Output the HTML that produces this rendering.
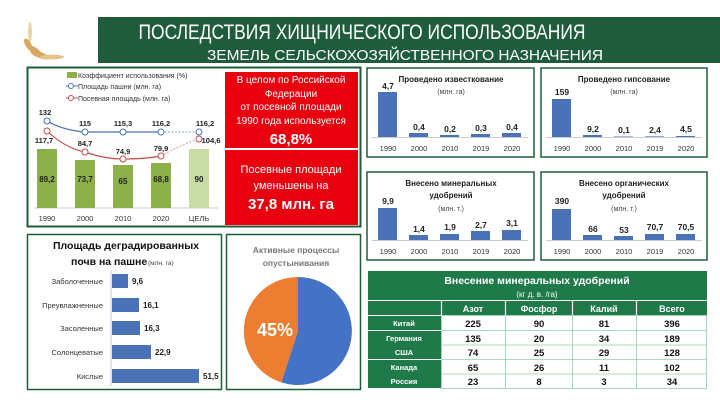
<!DOCTYPE html>
<html><head><meta charset="utf-8"><style>
html,body{margin:0;padding:0;background:#fff;}
svg{display:block;font-family:"Liberation Sans","DejaVu Sans",sans-serif;}
</style></head><body>
<svg width="720" height="414" viewBox="0 0 720 414" xmlns="http://www.w3.org/2000/svg">
<rect width="720" height="414" fill="#fff"/>
<!-- wheat icon -->
<g fill="#d9a860">
<ellipse cx="34" cy="50" rx="8" ry="3" transform="rotate(30 34 50)"/>
<ellipse cx="40" cy="55" rx="10" ry="3" transform="rotate(20 40 55)"/>
<ellipse cx="28" cy="44" rx="6" ry="3" transform="rotate(60 28 44)"/>
<ellipse cx="52" cy="57" rx="12" ry="2.5" fill="#e6c48a"/>
<ellipse cx="30" cy="32" rx="2" ry="10" fill="#e9d3a8"/>
</g>
<!-- header -->
<rect x="98" y="17" width="622" height="46" fill="#1f5c3c"/>
<text x="362" y="39" fill="#fff" font-size="21" text-anchor="middle" textLength="447" lengthAdjust="spacingAndGlyphs">ПОСЛЕДСТВИЯ ХИЩНИЧЕСКОГО ИСПОЛЬЗОВАНИЯ</text>
<text x="405" y="60" fill="#fff" font-size="15" text-anchor="middle" textLength="396" lengthAdjust="spacingAndGlyphs">ЗЕМЕЛЬ СЕЛЬСКОХОЗЯЙСТВЕННОГО НАЗНАЧЕНИЯ</text>

<!-- top-left chart panel -->
<rect x="27.5" y="67.5" width="333" height="159" fill="none" stroke="#1f5c3c" stroke-width="2"/>
<g font-size="7" fill="#333">
<rect x="67" y="72" width="10" height="6" fill="#8db04a"/><text x="78" y="78">Коэффициент использования (%)</text>
<line x1="66" y1="86" x2="78" y2="86" stroke="#4a72b8"/><circle cx="71" cy="86" r="2.5" fill="#fff" stroke="#4a72b8"/><text x="78" y="89">Площадь пашни (млн. га)</text>
<line x1="66" y1="98" x2="78" y2="98" stroke="#c0504d"/><circle cx="71" cy="98" r="2.5" fill="#fff" stroke="#c0504d"/><text x="78" y="101">Посевная площадь (млн. га)</text>
</g>
<line x1="34" y1="208" x2="218" y2="208" stroke="#ccc"/>
<g fill="#8db04a">
<rect x="37" y="149" width="20" height="59"/><rect x="75" y="160" width="20" height="48"/><rect x="113" y="165" width="20" height="43"/><rect x="151" y="163" width="20" height="45"/>
<rect x="189" y="149" width="20" height="59" fill="#c9dca6"/>
</g>
<g font-size="8" font-weight="bold" fill="#222" text-anchor="middle">
<text x="47" y="182">89,2</text><text x="85" y="182">73,7</text><text x="123" y="184">65</text><text x="161" y="182">68,8</text><text x="199" y="182">90</text>
</g>
<g font-size="7.5" fill="#333" text-anchor="middle">
<text x="47" y="221">1990</text><text x="85" y="221">2000</text><text x="123" y="221">2010</text><text x="161" y="221">2020</text><text x="199" y="221">ЦЕЛЬ</text>
</g>
<path d="M47 121 Q62 130 85 132 L161 132" fill="none" stroke="#4a72b8" stroke-width="1.2"/>
<path d="M161 132 L199 132" fill="none" stroke="#8fa9d8" stroke-width="1" stroke-dasharray="2 1.5"/>
<path d="M47 131 Q65 148 85 152 Q105 159 123 159 Q145 159 161 156" fill="none" stroke="#c0504d" stroke-width="1.2"/>
<path d="M161 156 Q180 145 199 139" fill="none" stroke="#e09a98" stroke-width="1" stroke-dasharray="2 1.5"/>
<g fill="#fff" stroke-width="1">
<circle cx="47" cy="121" r="3" stroke="#4a72b8"/><circle cx="85" cy="132" r="3" stroke="#4a72b8"/><circle cx="123" cy="132" r="3" stroke="#4a72b8"/><circle cx="161" cy="132" r="3" stroke="#4a72b8"/><circle cx="199" cy="132" r="3" stroke="#4a72b8"/>
<circle cx="47" cy="131" r="3" stroke="#c0504d"/><circle cx="85" cy="152" r="3" stroke="#c0504d"/><circle cx="123" cy="159" r="3" stroke="#c0504d"/><circle cx="161" cy="156" r="3" stroke="#c0504d"/><circle cx="199" cy="139" r="3" stroke="#c0504d"/>
</g>
<g font-size="7.5" font-weight="bold" fill="#222" text-anchor="middle">
<text x="45" y="115">132</text><text x="85" y="126">115</text><text x="123" y="126">115,3</text><text x="161" y="126">116,2</text><text x="205" y="126">116,2</text>
<text x="44" y="143">117,7</text><text x="85" y="146">84,7</text><text x="123" y="154">74,9</text><text x="161" y="151">79,9</text><text x="211" y="143">104,6</text>
</g>

<!-- red boxes -->
<rect x="225" y="72" width="133" height="76" fill="#e8000f"/>
<rect x="225" y="150" width="133" height="75" fill="#e8000f"/>
<g fill="#fff" text-anchor="middle">
<g font-size="10"><text x="291" y="83">В целом по Российской</text><text x="291" y="97">Федерации</text><text x="291" y="110">от посевной площади</text><text x="291" y="124">1990 года используется</text></g>
<text x="291" y="144" font-size="15" font-weight="bold">68,8%</text>
<g font-size="11"><text x="291" y="173">Посевные площади</text><text x="291" y="189">уменьшены на</text></g>
<text x="291" y="209" font-size="15" font-weight="bold">37,8 млн. га</text>
</g>

<!-- small bar panels -->
<g fill="none" stroke="#1f5c3c" stroke-width="1.5">
<rect x="367" y="68" width="167" height="89"/><rect x="541" y="68" width="166" height="89"/>
<rect x="367" y="172" width="167" height="88"/><rect x="541" y="172" width="166" height="88"/>
</g>
<g fill="#4a72b8">
<rect x="378" y="92" width="19" height="45"/><rect x="409" y="133" width="19" height="4"/><rect x="440" y="135" width="19" height="2"/><rect x="471" y="134" width="19" height="3"/><rect x="502" y="133" width="19" height="4"/>
<rect x="552" y="99" width="19" height="38"/><rect x="583" y="135" width="19" height="2"/><rect x="614" y="136.5" width="19" height=".5"/><rect x="645" y="136.4" width="19" height=".6"/><rect x="676" y="136" width="19" height="1"/>
<rect x="378" y="208" width="19" height="32"/><rect x="409" y="235" width="19" height="5"/><rect x="440" y="234" width="19" height="6"/><rect x="471" y="231" width="19" height="9"/><rect x="502" y="230" width="19" height="10"/>
<rect x="552" y="209" width="19" height="31"/><rect x="583" y="235" width="19" height="5"/><rect x="614" y="236" width="19" height="4"/><rect x="645" y="234" width="19" height="6"/><rect x="676" y="234" width="19" height="6"/>
</g>
<g stroke="#ccc"><line x1="372" y1="137.5" x2="528" y2="137.5"/><line x1="546" y1="137.5" x2="702" y2="137.5"/><line x1="372" y1="240.5" x2="528" y2="240.5"/><line x1="546" y1="240.5" x2="702" y2="240.5"/></g>
<g font-size="7.5" fill="#333" text-anchor="middle">
<text x="388" y="151">1990</text><text x="419" y="151">2000</text><text x="450" y="151">2010</text><text x="481" y="151">2019</text><text x="512" y="151">2020</text>
<text x="562" y="151">1990</text><text x="593" y="151">2000</text><text x="624" y="151">2010</text><text x="655" y="151">2019</text><text x="686" y="151">2020</text>
<text x="388" y="254">1990</text><text x="419" y="254">2000</text><text x="450" y="254">2010</text><text x="481" y="254">2019</text><text x="512" y="254">2020</text>
<text x="562" y="254">1990</text><text x="593" y="254">2000</text><text x="624" y="254">2010</text><text x="655" y="254">2019</text><text x="686" y="254">2020</text>
</g>
<g font-size="8.5" font-weight="bold" fill="#222" text-anchor="middle">
<text x="388" y="89">4,7</text><text x="419" y="130">0,4</text><text x="450" y="132">0,2</text><text x="481" y="131">0,3</text><text x="512" y="130">0,4</text>
<text x="562" y="95">159</text><text x="593" y="132">9,2</text><text x="624" y="133">0,1</text><text x="655" y="133">2,4</text><text x="686" y="132">4,5</text>
<text x="388" y="204">9,9</text><text x="419" y="232">1,4</text><text x="450" y="230">1,9</text><text x="481" y="228">2,7</text><text x="512" y="226">3,1</text>
<text x="562" y="204">390</text><text x="593" y="232">66</text><text x="624" y="233">53</text><text x="655" y="230">70,7</text><text x="686" y="230">70,5</text>
</g>
<g font-size="8" font-weight="bold" fill="#222" text-anchor="middle">
<text x="451" y="82">Проведено известкование</text><text x="624" y="82">Проведено гипсование</text>
<text x="451" y="186">Внесено минеральных</text><text x="451" y="198">удобрений</text>
<text x="624" y="186">Внесено органических</text><text x="624" y="198">удобрений</text>
</g>
<g font-size="7" fill="#444" text-anchor="middle">
<text x="451" y="94">(млн. га)</text><text x="624" y="94">(млн. га)</text><text x="451" y="211">(млн. т.)</text><text x="624" y="211">(млн. т.)</text>
</g>

<!-- degraded soils -->
<rect x="27.5" y="234.5" width="194" height="155" fill="none" stroke="#1f5c3c" stroke-width="1.5"/>
<text x="126" y="249" font-size="10.5" font-weight="bold" fill="#111" text-anchor="middle">Площадь деградированных</text>
<text x="71" y="265" font-size="10.5" font-weight="bold" fill="#111">почв на пашне</text>
<text x="148" y="265" font-size="6.5" fill="#444">(млн. га)</text>
<line x1="111" y1="270" x2="111" y2="386" stroke="#ccc"/>
<g fill="#4a72b8">
<rect x="112" y="274" width="16" height="14"/><rect x="112" y="298" width="27" height="14"/><rect x="112" y="321" width="28" height="14"/><rect x="112" y="345" width="39" height="14"/><rect x="112" y="369" width="87" height="14"/>
</g>
<g font-size="7.5" fill="#333" text-anchor="end">
<text x="103" y="284">Заболоченные</text><text x="103" y="308">Преувлажненные</text><text x="103" y="331">Засоленные</text><text x="103" y="355">Солонцеватые</text><text x="103" y="379">Кислые</text>
</g>
<g font-size="8" font-weight="bold" fill="#222">
<text x="132" y="284">9,6</text><text x="143" y="308">16,1</text><text x="144" y="331">16,3</text><text x="155" y="355">22,9</text><text x="203" y="379">51,5</text>
</g>

<!-- pie -->
<rect x="226.5" y="234.5" width="134" height="155" fill="none" stroke="#1f5c3c" stroke-width="1.5"/>
<text x="296" y="253" font-size="8.5" font-weight="bold" fill="#777" text-anchor="middle">Активные процессы</text>
<text x="296" y="266" font-size="8.5" font-weight="bold" fill="#777" text-anchor="middle">опустынивания</text>
<path d="M298 331 L298 277 A54 54 0 1 1 281.3 382.4 Z" fill="#4472c4"/>
<path d="M298 331 L281.3 382.4 A54 54 0 0 1 298 277 Z" fill="#ed7d31"/>
<text x="275" y="336" font-size="18" font-weight="bold" fill="#fff" text-anchor="middle">45%</text>

<!-- table -->
<rect x="368" y="271" width="339" height="29" fill="#1f7a4a"/>
<text x="537" y="284" font-size="10.5" font-weight="bold" fill="#fff" text-anchor="middle">Внесение минеральных удобрений</text>
<text x="537" y="297" font-size="8" fill="#fff" text-anchor="middle">(кг д. в. /га)</text>
<rect x="368" y="301" width="339" height="14" fill="#1f7a4a"/>
<g fill="#1f7a4a">
<rect x="368" y="316" width="73" height="14"/><rect x="368" y="331" width="73" height="14"/><rect x="368" y="345" width="73" height="14"/><rect x="368" y="360" width="73" height="14"/><rect x="368" y="374" width="73" height="14"/>
</g>
<g stroke="#fff" stroke-width="1.2"><line x1="441.5" y1="301" x2="441.5" y2="315"/><line x1="505.5" y1="301" x2="505.5" y2="315"/><line x1="572.5" y1="301" x2="572.5" y2="315"/><line x1="636.5" y1="301" x2="636.5" y2="315"/></g>
<g stroke="#8fd0a8" stroke-width="0.8" fill="none">
<rect x="441.5" y="315.5" width="265" height="73"/>
<line x1="505.5" y1="315" x2="505.5" y2="389"/><line x1="572.5" y1="315" x2="572.5" y2="389"/><line x1="636.5" y1="315" x2="636.5" y2="389"/>
<line x1="441" y1="330.5" x2="707" y2="330.5"/><line x1="441" y1="345" x2="707" y2="345"/><line x1="441" y1="359.5" x2="707" y2="359.5"/><line x1="441" y1="374" x2="707" y2="374"/>
</g>
<g font-size="9" fill="#fff" text-anchor="middle" font-weight="bold">
<text x="473" y="312">Азот</text><text x="539" y="312">Фосфор</text><text x="604" y="312">Калий</text><text x="672" y="312">Всего</text>
</g>
<g font-size="7.5" fill="#fff" text-anchor="middle" font-weight="bold">
<text x="404" y="326">Китай</text><text x="404" y="341">Германия</text><text x="404" y="355">США</text><text x="404" y="370">Канада</text><text x="404" y="384">Россия</text>
</g>
<g font-size="9.5" fill="#111" text-anchor="middle" font-weight="bold">
<text x="473" y="327">225</text><text x="539" y="327">90</text><text x="604" y="327">81</text><text x="672" y="327">396</text>
<text x="473" y="342">135</text><text x="539" y="342">20</text><text x="604" y="342">34</text><text x="672" y="342">189</text>
<text x="473" y="356">74</text><text x="539" y="356">25</text><text x="604" y="356">29</text><text x="672" y="356">128</text>
<text x="473" y="371">65</text><text x="539" y="371">26</text><text x="604" y="371">11</text><text x="672" y="371">102</text>
<text x="473" y="385">23</text><text x="539" y="385">8</text><text x="604" y="385">3</text><text x="672" y="385">34</text>
</g>
</svg>
</body></html>
